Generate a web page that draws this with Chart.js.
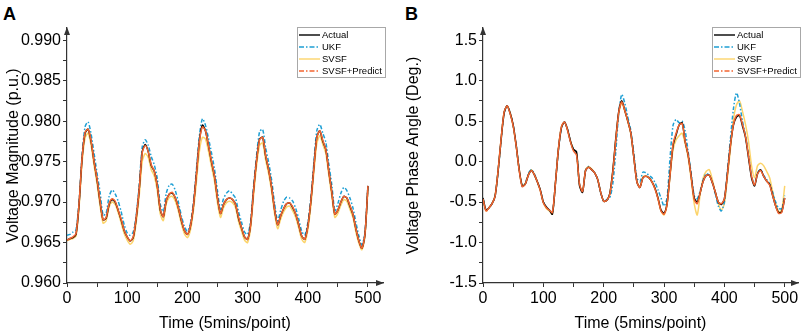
<!DOCTYPE html>
<html>
<head>
<meta charset="utf-8">
<script src="https://cdn.jsdelivr.net/npm/chart.js@4.4.1/dist/chart.umd.min.js"></script>
<style>
  body { margin: 0; background: #fff; width: 803px; height: 335px; overflow: hidden; position: relative; font-family: "Liberation Sans", Arial, sans-serif; }
  canvas { position: absolute; top: 0; }
  #cA { left: 0; }
  #cB { left: 400px; }
  .lettre { position: absolute; top: 5px; font-weight: bold; font-size: 18px; line-height: 18px; color: #000; }
</style>
</head>
<body>
<div class="lettre" style="left:3px">A</div>
<div class="lettre" style="left:405px">B</div>
<canvas id="cA" width="400" height="335"></canvas>
<canvas id="cB" width="403" height="335"></canvas>
<script>
// temps (5 min / point), un point lu tous les 5 pas
const timeSteps = [0,5,10,15,20,25,30,35,40,45,50,55,60,65,70,75,80,85,90,95,
  100,105,110,115,120,125,130,135,140,145,150,155,160,165,170,175,180,185,190,195,
  200,205,210,215,220,225,230,235,240,245,250,255,260,265,270,275,280,285,290,295,
  300,305,310,315,320,325,330,335,340,345,350,355,360,365,370,375,380,385,390,395,
  400,405,410,415,420,425,430,435,440,445,450,455,460,465,470,475,480,485,490,495,500];

const seriesNames = ["Actual", "UKF", "SVSF", "SVSF+Predict"];

const xTicks = [0,50,100,150,200,250,300,350,400,450,500];
const magTicks = [0.96,0.9625,0.965,0.9675,0.97,0.9725,0.975,0.9775,0.98,0.9825,0.985,0.9875,0.99];
const angTicks = [-1.5,-1.25,-1,-0.75,-0.5,-0.25,0,0.25,0.5,0.75,1,1.25,1.5];

// A : amplitude de tension (p.u.)
const magActual = [0.9653,0.9655,0.9656,0.9660,0.9697,0.9754,0.9785,0.9790,0.9775,0.9750,
  0.9727,0.9700,0.9678,0.9680,0.9697,0.9703,0.9700,0.9690,0.9678,0.9665,
  0.9657,0.9652,0.9656,0.9680,0.9716,0.9762,0.9771,0.9762,0.9745,0.9738,
  0.9720,0.9690,0.9682,0.9702,0.9710,0.9711,0.9705,0.9693,0.9677,0.9665,
  0.9660,0.9670,0.9695,0.9735,0.9776,0.9795,0.9788,0.9770,0.9750,0.9732,
  0.9705,0.9686,0.9697,0.9703,0.9705,0.9703,0.9697,0.9680,0.9668,0.9657,
  0.9654,0.9672,0.9715,0.9752,0.9778,0.9780,0.9757,0.9740,0.9718,0.9690,
  0.9672,0.9683,0.9692,0.9698,0.9699,0.9693,0.9685,0.9672,0.9658,0.9654,
  0.9670,0.9700,0.9742,0.9780,0.9788,0.9775,0.9765,0.9738,0.9712,0.9685,
  0.9690,0.9700,0.9707,0.9705,0.9695,0.9685,0.9667,0.9652,0.9643,0.9660,0.9720];
const magUKF = [0.9659,0.9660,0.9663,0.9666,0.9700,0.9757,0.9793,0.9799,0.9784,0.9760,
  0.9735,0.9712,0.9684,0.9686,0.9707,0.9715,0.9710,0.9701,0.9688,0.9672,
  0.9662,0.9659,0.9663,0.9684,0.9721,0.9768,0.9777,0.9770,0.9756,0.9746,
  0.9729,0.9697,0.9688,0.9711,0.9721,0.9722,0.9714,0.9700,0.9683,0.9670,
  0.9664,0.9673,0.9699,0.9740,0.9782,0.9803,0.9795,0.9779,0.9761,0.9741,
  0.9714,0.9691,0.9704,0.9711,0.9714,0.9710,0.9705,0.9688,0.9675,0.9663,
  0.9660,0.9676,0.9719,0.9758,0.9787,0.9790,0.9767,0.9749,0.9727,0.9698,
  0.9677,0.9690,0.9701,0.9706,0.9705,0.9701,0.9692,0.9679,0.9664,0.9659,
  0.9674,0.9704,0.9747,0.9788,0.9796,0.9785,0.9774,0.9747,0.9721,0.9689,
  0.9698,0.9711,0.9718,0.9714,0.9705,0.9693,0.9675,0.9658,0.9647,0.9662,0.9721];
const magSVSF = [0.9652,0.9654,0.9655,0.9658,0.9693,0.9748,0.9779,0.9785,0.9770,0.9745,
  0.9722,0.9695,0.9674,0.9677,0.9694,0.9700,0.9697,0.9687,0.9674,0.9661,
  0.9653,0.9648,0.9652,0.9675,0.9708,0.9750,0.9760,0.9755,0.9740,0.9732,
  0.9714,0.9685,0.9677,0.9698,0.9706,0.9707,0.9701,0.9689,0.9673,0.9661,
  0.9656,0.9665,0.9689,0.9725,0.9763,0.9780,0.9778,0.9763,0.9744,0.9726,
  0.9699,0.9681,0.9693,0.9699,0.9701,0.9699,0.9693,0.9676,0.9664,0.9653,
  0.9650,0.9667,0.9708,0.9745,0.9770,0.9773,0.9752,0.9735,0.9713,0.9685,
  0.9667,0.9679,0.9688,0.9694,0.9695,0.9689,0.9681,0.9668,0.9654,0.9650,
  0.9665,0.9694,0.9735,0.9772,0.9782,0.9771,0.9760,0.9733,0.9707,0.9681,
  0.9686,0.9696,0.9703,0.9701,0.9691,0.9681,0.9663,0.9649,0.9641,0.9657,0.9716];
const magPredict = [0.9653,0.9655,0.9657,0.9661,0.9698,0.9754,0.9786,0.9790,0.9776,0.9750,
  0.9728,0.9701,0.9678,0.9681,0.9698,0.9704,0.9701,0.9690,0.9679,0.9665,
  0.9657,0.9652,0.9657,0.9681,0.9716,0.9761,0.9770,0.9762,0.9746,0.9738,
  0.9720,0.9691,0.9682,0.9702,0.9710,0.9712,0.9705,0.9693,0.9678,0.9665,
  0.9660,0.9670,0.9695,0.9734,0.9775,0.9793,0.9788,0.9770,0.9751,0.9732,
  0.9705,0.9686,0.9697,0.9703,0.9705,0.9703,0.9697,0.9681,0.9668,0.9657,
  0.9654,0.9671,0.9714,0.9752,0.9777,0.9780,0.9758,0.9740,0.9718,0.9690,
  0.9672,0.9683,0.9692,0.9698,0.9699,0.9694,0.9685,0.9672,0.9658,0.9654,
  0.9669,0.9700,0.9741,0.9779,0.9788,0.9776,0.9765,0.9738,0.9712,0.9685,
  0.9690,0.9700,0.9707,0.9705,0.9696,0.9685,0.9667,0.9652,0.9643,0.9660,0.9720];

// B : angle de phase (deg.)
const angActual = [-0.45,-0.60,-0.57,-0.52,-0.43,-0.12,0.27,0.60,0.69,0.60,
  0.45,0.20,-0.10,-0.30,-0.28,-0.17,-0.11,-0.16,-0.25,-0.35,
  -0.50,-0.56,-0.60,-0.65,-0.27,0.15,0.42,0.49,0.40,0.25,
  0.15,0.12,-0.30,-0.38,-0.11,-0.07,-0.10,-0.14,-0.22,-0.38,
  -0.49,-0.48,-0.40,-0.12,0.28,0.62,0.75,0.63,0.50,0.35,
  0.05,-0.25,-0.32,-0.20,-0.18,-0.20,-0.25,-0.33,-0.45,-0.60,
  -0.64,-0.52,-0.15,0.20,0.33,0.45,0.48,0.25,0.08,-0.18,
  -0.45,-0.50,-0.38,-0.24,-0.17,-0.17,-0.26,-0.38,-0.50,-0.53,
  -0.46,-0.15,0.20,0.45,0.55,0.57,0.44,0.30,0.05,-0.20,
  -0.30,-0.15,-0.10,-0.18,-0.24,-0.28,-0.42,-0.55,-0.63,-0.62,-0.45];
const angUKF = [-0.45,-0.60,-0.57,-0.52,-0.43,-0.12,0.27,0.60,0.69,0.60,
  0.45,0.20,-0.10,-0.30,-0.27,-0.15,-0.10,-0.15,-0.25,-0.35,
  -0.50,-0.56,-0.60,-0.63,-0.27,0.15,0.42,0.49,0.40,0.25,
  0.15,0.10,-0.28,-0.37,-0.11,-0.06,-0.10,-0.14,-0.22,-0.38,
  -0.49,-0.47,-0.45,-0.28,0.12,0.60,0.83,0.72,0.55,0.38,
  0.10,-0.20,-0.25,-0.13,-0.14,-0.17,-0.20,-0.26,-0.35,-0.45,
  -0.55,-0.45,0.05,0.45,0.52,0.48,0.50,0.38,0.12,-0.15,
  -0.42,-0.46,-0.36,-0.22,-0.15,-0.17,-0.26,-0.40,-0.55,-0.61,
  -0.50,-0.12,0.28,0.65,0.85,0.72,0.50,0.32,0.08,-0.18,
  -0.28,-0.14,-0.10,-0.17,-0.22,-0.28,-0.38,-0.50,-0.58,-0.58,-0.42];
const angSVSF = [-0.45,-0.61,-0.57,-0.52,-0.42,-0.11,0.28,0.61,0.69,0.60,
  0.44,0.19,-0.10,-0.30,-0.27,-0.16,-0.10,-0.16,-0.25,-0.36,
  -0.51,-0.58,-0.61,-0.65,-0.27,0.16,0.43,0.49,0.39,0.25,
  0.15,0.10,-0.29,-0.37,-0.10,-0.06,-0.09,-0.14,-0.22,-0.38,
  -0.49,-0.48,-0.40,-0.13,0.27,0.60,0.73,0.62,0.49,0.34,
  0.05,-0.24,-0.32,-0.19,-0.18,-0.20,-0.25,-0.33,-0.46,-0.61,
  -0.66,-0.53,-0.18,0.15,0.27,0.32,0.35,0.22,0.05,-0.22,
  -0.52,-0.66,-0.40,-0.20,-0.12,-0.10,-0.22,-0.38,-0.52,-0.60,
  -0.52,-0.20,0.15,0.52,0.70,0.75,0.62,0.46,0.25,-0.05,
  -0.20,-0.05,-0.02,-0.05,-0.12,-0.20,-0.37,-0.52,-0.62,-0.60,-0.30];
const angPredict = [-0.46,-0.61,-0.57,-0.52,-0.43,-0.11,0.28,0.61,0.69,0.59,
  0.44,0.19,-0.11,-0.31,-0.28,-0.17,-0.11,-0.16,-0.25,-0.36,
  -0.51,-0.57,-0.60,-0.63,-0.27,0.16,0.43,0.49,0.39,0.24,
  0.13,0.08,-0.28,-0.37,-0.11,-0.07,-0.10,-0.14,-0.22,-0.38,
  -0.49,-0.48,-0.41,-0.14,0.26,0.61,0.74,0.63,0.50,0.35,
  0.05,-0.25,-0.32,-0.20,-0.18,-0.20,-0.25,-0.34,-0.46,-0.61,
  -0.65,-0.53,-0.16,0.22,0.35,0.45,0.47,0.25,0.08,-0.19,
  -0.47,-0.52,-0.38,-0.24,-0.17,-0.17,-0.26,-0.38,-0.50,-0.52,
  -0.46,-0.16,0.20,0.46,0.57,0.58,0.46,0.31,0.07,-0.18,
  -0.29,-0.15,-0.11,-0.18,-0.24,-0.29,-0.42,-0.55,-0.64,-0.63,-0.45];

const couleurs = ["#000000", "#1e9fd4", "#fcd46a", "#f26430"];
// pointilles sur la courbe et dans la legende
const pointillesCourbe = [[], [4, 2, 1.5, 2], [], []];
const pointillesLegende = [[], [5, 2, 1.5, 2], [], [5, 2, 1.5, 2]];
const ordres = [1, 2, 3, 0];

Chart.defaults.font.family = "'Liberation Sans', Arial, sans-serif";
Chart.defaults.color = "#000";

// fleches des axes + legende encadree
const decor = {
  id: "decor",
  afterDraw(chart) {
    const ctx = chart.ctx;
    const a = chart.chartArea;
    ctx.save();
    ctx.fillStyle = "#333";
    ctx.beginPath();
    ctx.moveTo(a.left, a.top - 1);
    ctx.lineTo(a.left - 3, a.top + 7);
    ctx.lineTo(a.left + 3, a.top + 7);
    ctx.fill();
    ctx.beginPath();
    ctx.moveTo(a.right + 1, a.bottom);
    ctx.lineTo(a.right - 7, a.bottom - 3);
    ctx.lineTo(a.right - 7, a.bottom + 3);
    ctx.fill();

    const w = 88, h = 50;
    const x0 = Math.round(a.right + 2 - w), y0 = Math.round(a.top - 1);
    ctx.fillStyle = "#fff";
    ctx.fillRect(x0, y0, w, h);
    ctx.strokeStyle = "#a8a8a8";
    ctx.lineWidth = 1;
    ctx.strokeRect(x0 + 0.5, y0 + 0.5, w, h);
    ctx.font = "9.5px 'Liberation Sans', Arial, sans-serif";
    ctx.textBaseline = "middle";
    chart.data.datasets.forEach((ds, i) => {
      const y = y0 + 8 + i * 12;
      ctx.strokeStyle = ds.borderColor;
      ctx.lineWidth = 1.4;
      ctx.setLineDash(pointillesLegende[i]);
      ctx.beginPath();
      ctx.moveTo(x0 + 2, y);
      ctx.lineTo(x0 + 23, y);
      ctx.stroke();
      ctx.setLineDash([]);
      ctx.fillStyle = "#000";
      ctx.fillText(ds.label, x0 + 25, y + 0.5);
    });
    ctx.restore();
  }
};

function dessiner(idCanvas, series, yMin, yMax, yTicks, decimales, yTitre, largeurY, xMax, padDroite) {
  const datasets = series.map((valeurs, i) => ({
    label: seriesNames[i],
    data: valeurs,
    borderColor: couleurs[i],
    backgroundColor: couleurs[i],
    borderDash: pointillesCourbe[i],
    borderWidth: 1.5,
    pointRadius: 0,
    tension: 0.25,
    order: ordres[i]
  }));

  const config = {
    type: "line",
    data: { labels: timeSteps, datasets: datasets },
    options: {
      responsive: false,
      animation: false,
      devicePixelRatio: 1,
      layout: { padding: { top: 28, right: padDroite, bottom: 0, left: 0 } },
      plugins: { legend: { display: false }, tooltip: { enabled: false } },
      scales: {
        x: {
          type: "linear",
          min: 0,
          max: xMax,
          afterBuildTicks: s => { s.ticks = xTicks.map(v => ({ value: v })); },
          afterFit: s => { s.height = 52; },
          ticks: {
            autoSkip: false,
            maxRotation: 0,
            padding: 2,
            font: { size: 16 },
            callback: v => (v % 100 === 0 ? String(v) : "")
          },
          grid: { drawOnChartArea: false, tickLength: 4, tickColor: "#333" },
          border: { color: "#333", width: 1.2 },
          title: { display: true, text: "Time (5mins/point)", font: { size: 16 }, padding: { top: 0, bottom: 2 } }
        },
        y: {
          min: yMin,
          max: yMax,
          afterBuildTicks: s => { s.ticks = yTicks.map(v => ({ value: v })); },
          afterFit: s => { s.width = largeurY; },
          ticks: {
            autoSkip: false,
            padding: 2,
            font: { size: 16 },
            callback: (v, i) => (i % 2 ? "" : v.toFixed(decimales))
          },
          grid: { drawOnChartArea: false, tickLength: 4, tickColor: "#333" },
          border: { color: "#333", width: 1.2 },
          title: { display: true, text: yTitre, font: { size: 16 }, padding: { top: 4, bottom: 2 } }
        }
      }
    },
    plugins: [decor]
  };

  return new Chart(document.getElementById(idCanvas), config);
}

dessiner("cA", [magActual, magUKF, magSVSF, magPredict], 0.96, 0.9915, magTicks, 3,
  "Voltage Magnitude (p.u.)", 67, 525, 17);
dessiner("cB", [angActual, angUKF, angSVSF, angPredict], -1.5, 1.65, angTicks, 1,
  "Voltage Phase Angle (Deg.)", 83, 522, 5);
</script>
</body>
</html>
